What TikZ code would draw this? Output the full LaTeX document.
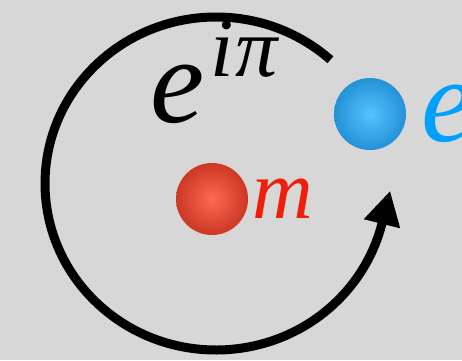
\documentclass[tikz,border=0pt]{standalone}
\usepackage{fontspec}
\setmainfont{Liberation Serif}
\usepackage{tikz}
\usetikzlibrary{arrows.meta, positioning}
\usepackage{xcolor}
\definecolor{bggray}{RGB}{215,215,215}
\definecolor{mredin}{RGB}{252,105,85}
\definecolor{mredout}{RGB}{205,55,35}
\definecolor{mredtext}{RGB}{240,30,10}
\definecolor{ebluein}{RGB}{85,195,255}
\definecolor{eblueout}{RGB}{35,145,215}
\definecolor{ebluetext}{RGB}{0,160,255}

\begin{document}
\begin{tikzpicture}[x=1pt, y=1pt,
  ball/.style={circle, minimum size=72pt, inner sep=0pt},
  orbit/.style={line width=9pt, -{Triangle[length=34pt, width=35pt]}},
  lab/.style={inner sep=0pt}]
\fill[bggray] (0,0) rectangle (462,360);
\useasboundingbox (0,0) rectangle (462,360);
\coordinate (orbitc) at (216,176.5);
\node[ball, inner color=mredin, outer color=mredout] (mball) at (212,161) {};
\node[ball, inner color=ebluein, outer color=eblueout] (eball) at (370,246) {};
\node[lab, right=4pt of mball, text=mredtext, font=\fontsize{84}{84}\selectfont\itshape] (mlab) {m};
\node[lab, right=15pt of eball, text=ebluetext, font=\fontsize{120}{120}\selectfont\itshape] (elab) {e};
\node[lab, anchor=base west] (phase) at (150,238) {\fontsize{122}{122}\selectfont\itshape e\kern6pt\raisebox{46pt}{\fontsize{84}{84}\selectfont i\kern2ptπ}};
\draw[orbit] (orbitc) ++(48:171 and 166.5) arc[start angle=48, end angle=346, x radius=171, y radius=166.5] -- ++(76:34);
\end{tikzpicture}
\end{document}
